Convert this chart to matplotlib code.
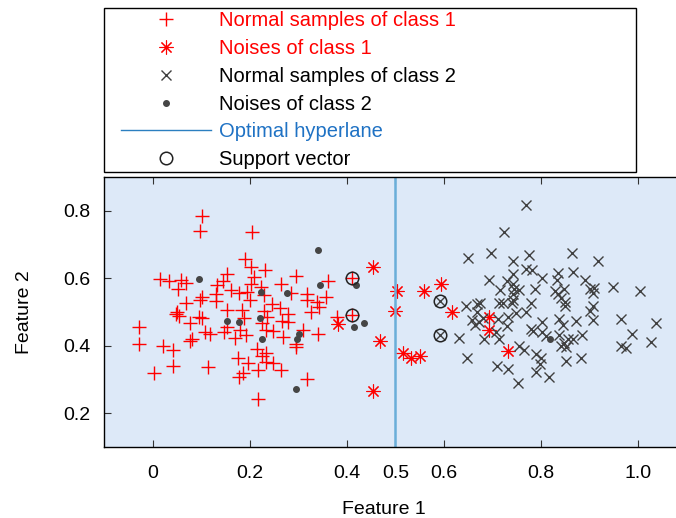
import matplotlib
matplotlib.use('Agg')
import matplotlib.pyplot as plt
from matplotlib.patches import Rectangle
import numpy as np

plt.rcParams['font.family'] = ['Liberation Sans', 'DejaVu Sans']

# normal samples of class 1 (red +)
c1_x = [0.102, 0.098, 0.016, 0.033, 0.058, 0.069, 0.052, 0.068, 0.098, 0.102,
        0.049, 0.054, 0.051, 0.095, 0.102, 0.078, -0.027, -0.027, 0.021, 0.043,
        0.042, 0.002, 0.081, 0.078, 0.107, 0.118, 0.115,
        0.205, 0.191, 0.202, 0.231, 0.153, 0.209, 0.296, 0.146, 0.133, 0.202,
        0.264, 0.224, 0.161, 0.178, 0.195, 0.230, 0.130, 0.130, 0.201, 0.286,
        0.319, 0.318, 0.338, 0.245, 0.263, 0.154, 0.185, 0.230, 0.279, 0.326,
        0.236, 0.188, 0.267, 0.278, 0.226, 0.154, 0.147, 0.181, 0.192, 0.233,
        0.247, 0.309, 0.340, 0.169, 0.269, 0.295, 0.295, 0.216, 0.233, 0.226,
        0.176, 0.197, 0.233, 0.247, 0.217, 0.264, 0.187, 0.178, 0.318, 0.217,
        0.362, 0.358, 0.343, 0.379, 0.410, 0.410]
c1_y = [0.783, 0.739, 0.599, 0.591, 0.594, 0.587, 0.568, 0.528, 0.537, 0.544,
        0.495, 0.487, 0.500, 0.485, 0.481, 0.466, 0.456, 0.406, 0.399, 0.387,
        0.340, 0.318, 0.421, 0.415, 0.441, 0.436, 0.336,
        0.736, 0.657, 0.633, 0.623, 0.613, 0.603, 0.606, 0.591, 0.579, 0.584,
        0.584, 0.574, 0.564, 0.556, 0.559, 0.549, 0.554, 0.532, 0.537, 0.556,
        0.552, 0.537, 0.529, 0.525, 0.513, 0.505, 0.507, 0.503, 0.495, 0.500,
        0.485, 0.481, 0.473, 0.470, 0.467, 0.456, 0.441, 0.446, 0.431, 0.446,
        0.444, 0.446, 0.434, 0.424, 0.426, 0.405, 0.395, 0.389, 0.379, 0.369,
        0.363, 0.348, 0.353, 0.348, 0.328, 0.328, 0.318, 0.308, 0.301, 0.242,
        0.591, 0.544, 0.515, 0.485, 0.600, 0.492]

# noises of class 1 (red asterisk)
n1_x = [0.453, 0.382, 0.469, 0.453, 0.504, 0.500, 0.559, 0.594, 0.616, 0.515,
        0.532, 0.551, 0.692, 0.693, 0.731]
n1_y = [0.633, 0.463, 0.414, 0.266, 0.561, 0.502, 0.561, 0.584, 0.500, 0.379,
        0.364, 0.369, 0.485, 0.446, 0.384]

# normal samples of class 2 (grey x)
c2_x = [0.649, 0.645, 0.669, 0.657, 0.663, 0.632, 0.647, 0.591, 0.591,
        0.770, 0.724, 0.697, 0.775, 0.864, 0.918, 0.742, 0.742, 0.769, 0.781,
        0.803, 0.834, 0.833, 0.865, 0.692, 0.730, 0.742, 0.891, 0.715, 0.745,
        0.755, 0.742, 0.788, 0.828, 0.834, 0.847, 0.900, 0.910, 0.907, 0.948,
        1.004, 0.675, 0.714, 0.721, 0.740, 0.742, 0.779, 0.841, 0.849, 0.849,
        0.907, 0.901, 0.669, 0.748, 0.769, 0.673, 0.680, 0.711, 0.731, 0.730,
        0.802, 0.838, 0.845, 0.871, 0.907, 0.965, 1.037, 0.707, 0.714, 0.683,
        0.779, 0.783, 0.803, 0.810, 0.838, 0.855, 0.865, 0.885, 0.841, 0.852,
        0.848, 0.987, 1.027, 0.965, 0.975, 0.755, 0.764, 0.790, 0.799, 0.797,
        0.790, 0.882, 0.852, 0.709, 0.733, 0.817, 0.753]
c2_y = [0.659, 0.518, 0.525, 0.476, 0.461, 0.423, 0.364, 0.532, 0.433,
        0.818, 0.736, 0.675, 0.669, 0.675, 0.650, 0.650, 0.613, 0.628, 0.623,
        0.600, 0.616, 0.596, 0.620, 0.594, 0.591, 0.584, 0.594, 0.564, 0.569,
        0.564, 0.554, 0.567, 0.561, 0.554, 0.567, 0.567, 0.571, 0.557, 0.574,
        0.561, 0.527, 0.528, 0.528, 0.528, 0.537, 0.528, 0.541, 0.531, 0.518,
        0.518, 0.502, 0.500, 0.498, 0.500, 0.471, 0.481, 0.478, 0.485, 0.459,
        0.471, 0.478, 0.461, 0.473, 0.476, 0.478, 0.466, 0.441, 0.421, 0.421,
        0.451, 0.443, 0.441, 0.429, 0.433, 0.421, 0.421, 0.433, 0.400, 0.397,
        0.407, 0.436, 0.411, 0.400, 0.392, 0.400, 0.387, 0.377, 0.363, 0.345,
        0.321, 0.364, 0.355, 0.341, 0.331, 0.306, 0.289]

# noises of class 2 (grey dots)
n2_x = [0.096, 0.340, 0.345, 0.223, 0.276, 0.221, 0.153, 0.177, 0.302, 0.297,
        0.225, 0.295, 0.419, 0.414, 0.436, 0.819]
n2_y = [0.598, 0.685, 0.579, 0.559, 0.556, 0.481, 0.473, 0.470, 0.434, 0.419,
        0.419, 0.271, 0.579, 0.455, 0.468, 0.419]

# support vectors
sv_x = [0.410, 0.410, 0.591, 0.591]
sv_y = [0.600, 0.492, 0.532, 0.433]

hyperplane_x = 0.5

fig = plt.figure(figsize=(6.76, 5.18), dpi=100)
ax = fig.add_axes([104 / 676, 71 / 518, 573 / 676, 270 / 518])
ax.set_facecolor('#dde9f8')

ax.plot(c1_x, c1_y, '+', color='red', markersize=10.5, mew=1.0, linestyle='none',
        label='Normal samples of class 1')
ax.plot(n1_x, n1_y, marker=(8, 2, 0), color='red', markersize=10, mew=0.8,
        linestyle='none', label='Noises of class 1')
ax.plot(c2_x, c2_y, 'x', color='#404040', markersize=6.5, mew=1.0, linestyle='none',
        label='Normal samples of class 2')
ax.plot(n2_x, n2_y, 'o', color='#454545', markersize=4, linestyle='none',
        label='Noises of class 2')
ax.axvline(hyperplane_x, color='#6aaed9', linewidth=1.8, label='Optimal hyperlane')
ax.plot(sv_x, sv_y, 'o', mfc='none', mec='#222222', markersize=9, mew=1.1,
        linestyle='none', label='Support vector')

ax.set_xlim(-0.1, 1.08)
ax.set_ylim(0.1, 0.9)
ax.set_xticks([0, 0.2, 0.4, 0.5, 0.6, 0.8, 1.0])
ax.set_xticklabels(['0', '0.2', '0.4', '0.5', '0.6', '0.8', '1.0'])
ax.set_yticks([0.2, 0.4, 0.6, 0.8])
ax.set_yticklabels(['0.2', '0.4', '0.6', '0.8'])
ax.tick_params(direction='in', top=True, right=False, length=5, width=0.8,
               color='#333333', labelsize=14)
ax.tick_params(axis='x', pad=13)
ax.tick_params(axis='y', pad=10)
ax.spines['right'].set_visible(False)
for s in ['left', 'bottom', 'top']:
    ax.spines[s].set_linewidth(1.0)

ax.set_xlabel('Feature 1', fontsize=14)
ax.set_ylabel('Feature 2', fontsize=14)
ax.xaxis.set_label_coords(0.488, -0.2)
ax.yaxis.set_label_coords(-0.124, 0.5)

# legend box above the axes
fig.patches.append(Rectangle((104 / 676, 346 / 518), 532 / 676, 164 / 518,
                             transform=fig.transFigure, facecolor='white',
                             edgecolor='black', linewidth=1.0))
leg = fig.legend(loc='upper left', bbox_to_anchor=(121 / 676, 1 - 11 / 518),
                 frameon=False, fontsize=14.5, borderpad=0, borderaxespad=0,
                 handlelength=4.45, handletextpad=0.4, labelspacing=0.44)
leg.legend_handles[4].set_linewidth(1.0)
leg.legend_handles[4].set_color('#2b7fc0')
text_colors = ['red', 'red', 'black', 'black', '#1f72c4', 'black']
for t, c in zip(leg.get_texts(), text_colors):
    t.set_color(c)

fig.savefig('out.png', dpi=100)
